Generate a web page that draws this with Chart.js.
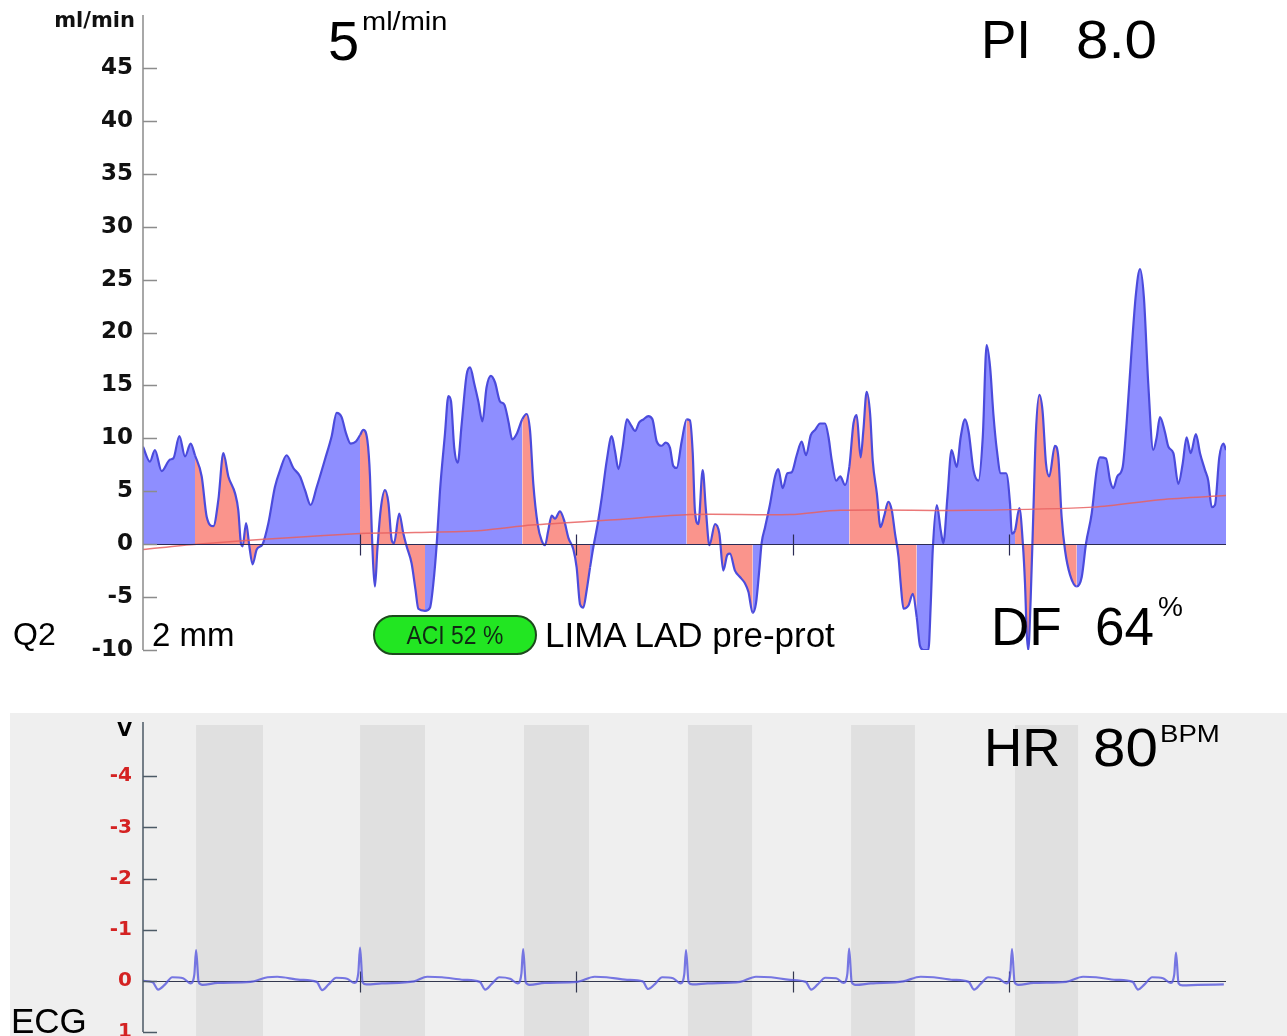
<!DOCTYPE html>
<html lang="de">
<head>
<meta charset="UTF-8">
<title>Flussmessung LIMA LAD</title>
<style>
    body {
        margin: 0;
        width: 1287px;
        height: 1036px;
        position: relative;
        overflow: hidden;
        background: #fff;
        font-family: "Liberation Sans", Arial, sans-serif;
    }
    #flowChart { position: absolute; left: 0; top: 0; }
    #ecgChart { position: absolute; left: 0; top: 713px; }
    .ecg-panel {
        position: absolute; left: 10px; top: 713px;
        width: 1277px; height: 323px; background: #efefef;
    }
    .lbl {
        position: absolute; line-height: 1; white-space: nowrap; color: #000;
        transform-origin: left top;
    }
    .unit {
        position: absolute; line-height: 1; white-space: nowrap;
        font-family: "DejaVu Sans", sans-serif; font-weight: bold; color: #111;
        text-align: right;
    }
    .badge {
        position: absolute; left: 373px; top: 615px; width: 164px; height: 40px;
        box-sizing: border-box; border: 2px solid #1d4a1d; border-radius: 20px;
        background: #22e622; text-align: center; line-height: 36px;
        font-size: 26px; color: #102a14;
    }
    .badge span { display: inline-block; transform: scaleX(0.88); }
</style>
</head>
<body>
    <canvas id="flowChart" width="1287" height="672"></canvas>
    <div class="ecg-panel"></div>
    <canvas id="ecgChart" width="1287" height="323"></canvas>

    <!-- Beschriftungen -->
    <div class="unit" style="right:1152px; top:10px; font-size:21px;">ml/min</div>
    <div class="lbl" style="left:328px; top:13px; font-size:56px;">5</div>
    <div class="lbl" style="left:362px; top:9px; font-size:25px; transform:scaleX(1.16);">ml/min</div>
    <div class="lbl" style="left:981px; top:13px; font-size:53px;">PI</div>
    <div class="lbl" style="left:1076px; top:13px; font-size:53px; transform:scaleX(1.1);">8.0</div>

    <div class="lbl" style="left:13px; top:618px; font-size:32px;">Q2</div>
    <div class="lbl" style="left:152px; top:618px; font-size:33px;">2 mm</div>
    <div class="badge"><span>ACI 52 %</span></div>
    <div class="lbl" style="left:545px; top:617px; font-size:35px;">LIMA LAD pre-prot</div>
    <div class="lbl" style="left:991px; top:600px; font-size:53px;">DF</div>
    <div class="lbl" style="left:1095px; top:600px; font-size:53px;">64</div>
    <div class="lbl" style="left:1158px; top:593px; font-size:28px;">%</div>

    <div class="unit" style="right:1155px; top:720px; font-size:19px; color:#000;">V</div>
    <div class="lbl" style="left:984px; top:721px; font-size:53px;">HR</div>
    <div class="lbl" style="left:1093px; top:721px; font-size:53px; transform:scaleX(1.1);">80</div>
    <div class="lbl" style="left:1160px; top:722px; font-size:24px; transform:scaleX(1.15);">BPM</div>
    <div class="lbl" style="left:11px; top:1003px; font-size:35px;">ECG</div>

    <script src="https://cdn.jsdelivr.net/npm/chart.js"></script>
    <script>
        // Zeit in s, Fluss in ml/min
        var flowTime = [
            0.000, 0.032, 0.055, 0.086, 0.125, 0.140, 0.168, 0.194, 0.220, 0.240,
            0.271, 0.294, 0.325, 0.348, 0.371, 0.394, 0.425, 0.440, 0.452, 0.460,
            0.476, 0.491, 0.506, 0.525, 0.552, 0.579, 0.609, 0.633, 0.663, 0.694,
            0.725, 0.748, 0.774, 0.802, 0.840, 0.871, 0.894, 0.917, 0.937, 0.959,
            0.983, 1.002, 1.017, 1.036, 1.048, 1.056, 1.064, 1.071, 1.082, 1.097,
            1.117, 1.133, 1.148, 1.159, 1.183, 1.202, 1.217, 1.240, 1.258, 1.271,
            1.302, 1.325, 1.340, 1.356, 1.371, 1.394, 1.410, 1.422, 1.437, 1.453,
            1.471, 1.494, 1.510, 1.530, 1.548, 1.567, 1.586, 1.606, 1.625, 1.648,
            1.668, 1.687, 1.705, 1.725, 1.751, 1.771, 1.787, 1.802, 1.822, 1.841,
            1.856, 1.871, 1.887, 1.902, 1.925, 1.945, 1.964, 1.987, 2.002, 2.018,
            2.033, 2.048, 2.064, 2.079, 2.099, 2.118, 2.141, 2.164, 2.179, 2.195,
            2.214, 2.234, 2.254, 2.272, 2.291, 2.311, 2.333, 2.352, 2.372, 2.395,
            2.413, 2.433, 2.448, 2.464, 2.487, 2.510, 2.525, 2.538, 2.548, 2.564,
            2.584, 2.599, 2.615, 2.641, 2.661, 2.679, 2.698, 2.710, 2.733, 2.756,
            2.779, 2.795, 2.815, 2.830, 2.845, 2.856, 2.872, 2.895, 2.918, 2.933,
            2.953, 2.975, 2.995, 3.018, 3.041, 3.061, 3.083, 3.103, 3.126, 3.149,
            3.165, 3.180, 3.200, 3.219, 3.241, 3.261, 3.280, 3.295, 3.313, 3.326,
            3.341, 3.357, 3.369, 3.388, 3.405, 3.421, 3.441, 3.457, 3.472, 3.488,
            3.498, 3.511, 3.534, 3.554, 3.572, 3.587, 3.603, 3.626, 3.637, 3.646,
            3.665, 3.683, 3.695, 3.714, 3.733, 3.757, 3.775, 3.795, 3.812, 3.834,
            3.857, 3.877, 3.895, 3.911, 3.926, 3.942, 3.960, 3.985, 4.003, 4.011,
            4.026, 4.046, 4.062, 4.072, 4.080, 4.087, 4.098, 4.110, 4.122, 4.138,
            4.153, 4.169, 4.184, 4.210, 4.226, 4.241, 4.257, 4.280, 4.311, 4.334,
            4.354, 4.380, 4.403, 4.418, 4.446, 4.465, 4.480, 4.498, 4.523, 4.541,
            4.564, 4.584, 4.603, 4.621, 4.641, 4.664, 4.680, 4.695, 4.718, 4.734,
            4.757, 4.780, 4.800, 4.818, 4.837, 4.861, 4.880, 4.903, 4.918, 4.934,
            4.949, 4.969, 4.988, 5.000
        ];
        var flowValue = [
            9.2, 7.8, 8.9, 6.9, 8.0, 8.1, 10.2, 8.3, 9.5, 8.4,
            6.4, 2.6, 1.7, 4.2, 8.6, 6.4, 4.8, 3.2, 0.1, -0.2,
            2.0, -0.2, -1.9, -0.5, 0.0, 2.0, 5.4, 7.0, 8.4, 7.2,
            6.4, 5.1, 3.7, 5.4, 8.0, 10.2, 12.4, 12.0, 10.5, 9.5,
            9.7, 10.3, 10.8, 9.8, 6.4, 1.4, -2.4, -4.0, -0.5, 3.2,
            5.1, 3.9, 0.4, 0.1, 2.9, 1.0, -0.2, -1.8, -4.3, -6.1,
            -6.3, -6.0, -3.8, 0.0, 5.0, 10.4, 14.0, 13.5, 9.1, 7.7,
            11.3, 16.0, 16.7, 15.1, 13.5, 11.6, 14.8, 15.9, 15.3, 13.5,
            13.2, 11.6, 9.9, 10.4, 11.8, 12.3, 10.7, 5.7, 1.9, 0.3,
            -0.1, 1.3, 2.7, 2.4, 3.1, 2.2, 0.6, -0.5, -2.2, -5.7,
            -6.0, -4.4, -2.2, -0.3, 1.9, 4.4, 7.9, 10.2, 8.8, 7.1,
            9.1, 11.8, 11.2, 10.7, 11.5, 11.8, 12.1, 11.8, 9.7, 9.3,
            9.6, 9.1, 7.4, 7.2, 9.7, 11.8, 11.7, 8.6, 3.2, 1.9,
            7.0, 3.2, -0.1, 1.9, 1.0, -2.5, -1.0, -0.9, -2.5, -3.1,
            -3.7, -4.5, -6.5, -5.6, -2.5, 0.1, 1.6, 3.8, 6.4, 7.1,
            5.3, 6.7, 6.8, 8.4, 9.7, 8.4, 10.3, 10.8, 11.4, 11.4,
            10.1, 7.9, 6.0, 6.4, 5.6, 7.3, 11.4, 12.2, 8.2, 10.8,
            14.4, 12.3, 7.9, 4.8, 1.6, 2.6, 4.0, 3.2, 1.0, -1.2,
            -3.7, -6.1, -5.8, -4.7, -6.9, -9.6, -10.0, -10.0, -5.6, -0.6,
            3.7, 1.3, 0.1, 4.5, 8.9, 7.3, 10.1, 11.8, 10.6, 7.0,
            6.0, 10.1, 18.8, 16.7, 12.3, 8.9, 6.7, 6.7, 3.8, 1.0,
            1.3, 3.4, 0.1, -3.7, -8.4, -10.0, -5.3, 2.6, 10.4, 14.1,
            12.6, 7.6, 6.4, 9.3, 8.2, 2.6, -0.6, -2.9, -4.0, -3.1,
            0.1, 2.9, 7.0, 8.2, 8.1, 6.0, 5.3, 6.4, 7.3, 11.4,
            18.3, 23.6, 26.0, 23.3, 15.2, 8.9, 10.1, 12.0, 10.6, 9.2,
            8.6, 5.7, 7.6, 10.1, 8.6, 10.4, 8.6, 7.0, 6.0, 3.5,
            3.7, 8.2, 9.5, 8.9
        ];

        // Mittlerer Fluss
        var meanTime  = [0, 0.248, 1.002, 1.256, 1.564, 1.795, 2.179, 2.525, 2.987, 3.218, 3.818, 4.388, 4.695, 5.0];
        var meanValue = [-0.5, 0.0, 1.0, 1.1, 1.3, 1.8, 2.3, 2.8, 2.8, 3.2, 3.2, 3.5, 4.2, 4.6];

        // Systolen-Fenster (s)
        var sysStart = [0.245, 1.002, 1.759, 2.516, 3.269, 4.026];
        var sysEnd   = [0.554, 1.302, 2.059, 2.812, 3.564, 4.317];

        // EKG in V
        var ecgTime = [
            0.000, 0.045, 0.070, 0.100, 0.135, 0.185, 0.220, 0.237, 0.245, 0.257, 0.275, 0.345, 0.495, 0.575, 0.620, 0.725,
            0.802, 0.827, 0.857, 0.892, 0.942, 0.977, 0.994, 1.002, 1.014, 1.032, 1.102, 1.252, 1.312, 1.380, 1.482,
            1.555, 1.580, 1.610, 1.645, 1.695, 1.730, 1.747, 1.755, 1.767, 1.785, 1.855, 2.005, 2.085, 2.140, 2.235,
            2.307, 2.332, 2.362, 2.397, 2.447, 2.482, 2.499, 2.507, 2.519, 2.537, 2.607, 2.757, 2.830, 2.900, 2.987,
            3.060, 3.085, 3.115, 3.150, 3.200, 3.235, 3.252, 3.260, 3.272, 3.290, 3.360, 3.510, 3.590, 3.650, 3.740,
            3.812, 3.837, 3.867, 3.902, 3.952, 3.987, 4.004, 4.012, 4.024, 4.042, 4.112, 4.262, 4.340, 4.400, 4.492,
            4.569, 4.594, 4.624, 4.659, 4.709, 4.744, 4.761, 4.769, 4.781, 4.799, 4.869, 4.990
        ];
        var ecgValue = [
            0.00, 0.03, 0.17, 0.08, -0.07, -0.05, 0.05, -0.12, -0.60, 0.03, 0.08, 0.04, 0.02, -0.07, -0.08, -0.02,
            0.02, 0.18, 0.07, -0.06, -0.04, 0.04, -0.15, -0.65, 0.03, 0.07, 0.05, 0.01, -0.08, -0.07, -0.02,
            0.02, 0.17, 0.06, -0.07, -0.04, 0.05, -0.14, -0.62, 0.03, 0.08, 0.04, 0.02, -0.08, -0.07, -0.02,
            0.01, 0.16, 0.07, -0.07, -0.05, 0.05, -0.13, -0.60, 0.03, 0.07, 0.05, 0.02, -0.08, -0.07, -0.02,
            0.02, 0.17, 0.07, -0.06, -0.05, 0.04, -0.14, -0.63, 0.03, 0.08, 0.05, 0.01, -0.08, -0.07, -0.02,
            0.02, 0.17, 0.06, -0.07, -0.04, 0.05, -0.14, -0.62, 0.03, 0.08, 0.04, 0.02, -0.08, -0.07, -0.02,
            0.02, 0.17, 0.07, -0.07, -0.05, 0.04, -0.12, -0.55, 0.05, 0.09, 0.08, 0.07
        ];

        // Zeitmarken auf der Nulllinie (s)
        var xMarks = [1, 2, 3, 4];

        var BLUE_FILL = 'rgb(142,142,255)';
        var RED_FILL = 'rgb(250,148,140)';

        function inSystole(t) {
            for (var i = 0; i < sysStart.length; i++) {
                if (t >= sysStart[i] && t <= sysEnd[i]) return true;
            }
            return false;
        }

        function points(xs, ys) {
            return xs.map(function (x, i) { return { x: x, y: ys[i] }; });
        }

        // Achsen, Ticks und Nulllinie selbst zeichnen
        function axisPainter(o) {
            return {
                id: 'axisPainter',
                beforeDatasetsDraw: function (chart) {
                    var ctx = chart.ctx, a = chart.chartArea, x = chart.scales.x, y = chart.scales.y;
                    ctx.save();
                    if (o.bands) {
                        ctx.fillStyle = o.bandColor;
                        for (var i = 0; i < sysStart.length; i++) {
                            var x0 = x.getPixelForValue(sysStart[i]);
                            var x1 = x.getPixelForValue(sysEnd[i]);
                            ctx.fillRect(x0, a.top, x1 - x0, chart.height - a.top);
                        }
                    }
                    if (!o.zeroOnTop) drawZero(ctx, a, x, y, o);
                    ctx.restore();
                },
                afterDatasetsDraw: function (chart) {
                    var ctx = chart.ctx, a = chart.chartArea, x = chart.scales.x, y = chart.scales.y;
                    ctx.save();
                    if (o.zeroOnTop) drawZero(ctx, a, x, y, o);
                    ctx.strokeStyle = o.axisColor;
                    ctx.lineWidth = 1.5;
                    ctx.beginPath();
                    ctx.moveTo(a.left, a.top - o.axisOver);
                    ctx.lineTo(a.left, a.bottom);
                    y.ticks.forEach(function (t) {
                        if (t.value === o.skip) return;
                        var py = Math.round(y.getPixelForValue(t.value)) + 0.5;
                        ctx.moveTo(a.left, py);
                        ctx.lineTo(a.left + 14, py);
                    });
                    ctx.stroke();
                    ctx.restore();
                }
            };
        }

        function drawZero(ctx, a, x, y, o) {
            var y0 = Math.round(y.getPixelForValue(0)) + 0.5;
            ctx.strokeStyle = o.zeroColor;
            ctx.lineWidth = 1.2;
            ctx.beginPath();
            ctx.moveTo(a.left, y0);
            ctx.lineTo(a.right, y0);
            xMarks.forEach(function (v) {
                var px = Math.round(x.getPixelForValue(v)) + 0.5;
                ctx.moveTo(px, y0 - 10);
                ctx.lineTo(px, y0 + 11);
            });
            ctx.stroke();
        }

        // Flussdiagramm
        new Chart(document.getElementById('flowChart'), {
            type: 'line',
            data: {
                datasets: [{
                    data: points(meanTime, meanValue),
                    borderColor: 'rgba(232,96,96,0.85)',
                    borderWidth: 1.5,
                    pointRadius: 0,
                    fill: false,
                    tension: 0.3
                }, {
                    data: points(flowTime, flowValue),
                    borderColor: '#4b4bdc',
                    borderWidth: 2.2,
                    pointRadius: 0,
                    backgroundColor: BLUE_FILL,
                    fill: 'origin',
                    cubicInterpolationMode: 'monotone',
                    segment: {
                        backgroundColor: function (c) {
                            return inSystole((c.p0.parsed.x + c.p1.parsed.x) / 2) ? RED_FILL : BLUE_FILL;
                        }
                    }
                }]
            },
            options: {
                responsive: false,
                animation: false,
                devicePixelRatio: 1,
                layout: { padding: { left: 0, right: 61, top: 15, bottom: 22 } },
                plugins: { legend: { display: false }, tooltip: { enabled: false } },
                scales: {
                    x: { type: 'linear', min: 0, max: 5, display: false },
                    y: {
                        min: -10, max: 50,
                        grid: { display: false, drawTicks: false },
                        border: { display: false },
                        ticks: {
                            stepSize: 5,
                            padding: 10,
                            color: '#111',
                            font: { family: 'DejaVu Sans', size: 23, weight: 'bold' },
                            callback: function (v) { return v === 50 ? '' : v; }
                        },
                        afterFit: function (s) { s.width = 143; s.paddingTop = 0; s.paddingBottom = 0; }
                    }
                }
            },
            plugins: [axisPainter({ axisColor: '#8c8c8c', zeroColor: '#2b2b55', axisOver: 0, skip: 50, zeroOnTop: true })]
        });

        // EKG-Diagramm
        new Chart(document.getElementById('ecgChart'), {
            type: 'line',
            data: {
                datasets: [{
                    data: points(ecgTime, ecgValue),
                    borderColor: 'rgba(88,88,222,0.8)',
                    borderWidth: 2.2,
                    pointRadius: 0,
                    fill: false,
                    cubicInterpolationMode: 'monotone'
                }]
            },
            options: {
                responsive: false,
                animation: false,
                devicePixelRatio: 1,
                layout: { padding: { left: 0, right: 61, top: 12, bottom: 4 } },
                plugins: { legend: { display: false }, tooltip: { enabled: false } },
                scales: {
                    x: { type: 'linear', min: 0, max: 5, display: false },
                    y: {
                        min: -5, max: 1, reverse: true,
                        grid: { display: false, drawTicks: false },
                        border: { display: false },
                        ticks: {
                            stepSize: 1,
                            padding: 11,
                            color: '#d42222',
                            font: { family: 'DejaVu Sans', size: 20, weight: 'bold' },
                            callback: function (v) { return v === -5 ? '' : v; }
                        },
                        afterFit: function (s) { s.width = 143; s.paddingTop = 0; s.paddingBottom = 0; }
                    }
                }
            },
            plugins: [axisPainter({ axisColor: '#4c5a66', zeroColor: '#33384f', axisOver: 3, skip: -5,
                                    bands: true, bandColor: '#e0e0e0', zeroOnTop: false })]
        });
    </script>
</body>
</html>
